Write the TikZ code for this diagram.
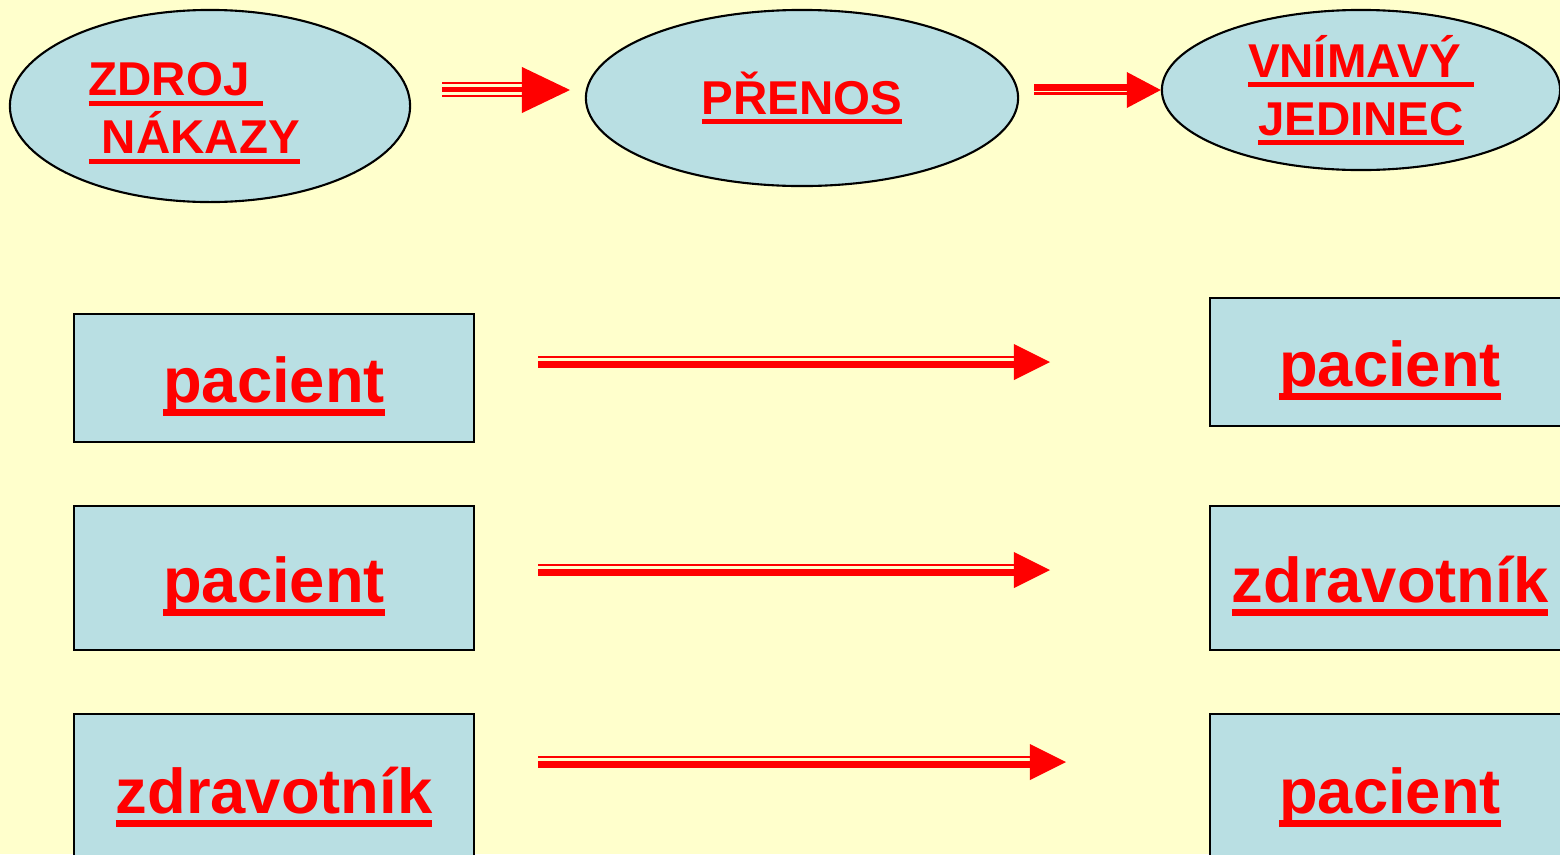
\documentclass[tikz,border=0pt]{standalone}
\usepackage{fontspec}
\setmainfont{Liberation Sans}
\usetikzlibrary{shapes.geometric}
\definecolor{paper}{RGB}{255,255,204}
\definecolor{pale}{RGB}{185,223,227}
\definecolor{hot}{RGB}{255,0,0}

% underline: depth of the bar's lower edge and its thickness
\newcommand{\uldepth}{2.8pt}
\newcommand{\ulthick}{1.4pt}
\newcommand{\ulin}[1]{\leavevmode\setbox0=\hbox{#1}\rlap{\copy0}\rule[-\uldepth]{\wd0}{\ulthick}}
\newcommand{\headfont}{\bfseries\fontsize{13.5}{16.5}\selectfont\renewcommand{\uldepth}{2.8pt}\renewcommand{\ulthick}{1.4pt}}
\newcommand{\cellfont}{\bfseries\fontsize{18}{22}\selectfont\renewcommand{\uldepth}{3.9pt}\renewcommand{\ulthick}{2pt}}

% striped arrow: start, tip, head length, head half width, {yshift/width, ...}
\newcommand{\striped}[5]{%
  \foreach \sdy/\swd in {#5} {
    \draw[hot, line width=\swd] ([yshift=\sdy]#1) -- ([yshift=\sdy, xshift=-#3]#2);
  }
  \fill[hot] (#2) -- ([xshift=-#3, yshift=#4]#2) -- ([xshift=-#3, yshift=-#4]#2) -- cycle;
}

\begin{document}
\begin{tikzpicture}[x=0.01cm, y=-0.01cm,
  oval/.style={ellipse, draw=black, line width=0.6pt, fill=pale, inner sep=0,
    text=hot, font=\headfont, align=center},
  cell/.style={rectangle, draw=black, line width=0.6pt, fill=pale, inner sep=0,
    text=hot, font=\cellfont, text height=14pt, text depth=0.34pt}]

  \useasboundingbox (0,0) rectangle (1560,854);
  \fill[paper] (0,0) rectangle (1560,854);
  \clip (0,0) rectangle (1560,854);

  % top row
  \node[oval, minimum width=4cm, minimum height=1.92cm] (zdroj) at (210,106) {};
  \node[text=hot, font=\headfont, align=left, anchor=north west, inner sep=0] (zdrojtxt) at (88,62)
    {\ulin{ZDROJ\ }\\\ulin{\ NÁKAZY}};
  \node[oval, minimum width=4.32cm, minimum height=1.76cm] (prenos) at (802,98) {\ulin{PŘENOS}};
  \node[oval, minimum width=3.98cm, minimum height=1.6cm] (vnimavy) at (1361,90)
    {\ulin{VNÍMAVÝ\ }\\\ulin{JEDINEC}};

  \coordinate (p1) at (442,90);
  \coordinate (q1) at (570,90);
  \striped{p1}{q1}{0.48cm}{0.23cm}{2pt/0.7pt, 0.14pt/1.55pt, -1.7pt/0.7pt}
  \coordinate (p2) at (1034,90);
  \striped{p2}{vnimavy.west}{0.34cm}{0.18cm}{0.71pt/2pt, -1pt/0.85pt}

  % sources and receivers
  \node[cell, minimum width=4cm, minimum height=1.28cm] (src1) at (274,378) {\ulin{pacient}};
  \node[cell, minimum width=4cm, minimum height=1.44cm] (src2) at (274,578) {\ulin{pacient}};
  \node[cell, minimum width=4cm, minimum height=1.5cm] (src3) at (274,789) {\ulin{zdravotník}};
  \node[cell, minimum width=3.6cm, minimum height=1.28cm] (dst1) at (1390,362) {\ulin{pacient}};
  \node[cell, minimum width=3.6cm, minimum height=1.44cm] (dst2) at (1390,578) {\ulin{zdravotník}};
  \node[cell, minimum width=3.6cm, minimum height=1.5cm] (dst3) at (1390,789) {\ulin{pacient}};

  \coordinate (p3) at (538,362);
  \coordinate (q3) at (1050,362);
  \striped{p3}{q3}{0.36cm}{0.18cm}{1.42pt/0.7pt, -0.71pt/2pt}
  \coordinate (p4) at (538,570);
  \coordinate (q4) at (1050,570);
  \striped{p4}{q4}{0.36cm}{0.18cm}{1.42pt/0.7pt, -0.71pt/2pt}
  \coordinate (p5) at (538,762);
  \coordinate (q5) at (1066,762);
  \striped{p5}{q5}{0.36cm}{0.18cm}{1.42pt/0.7pt, -0.71pt/2pt}
\end{tikzpicture}
\end{document}
